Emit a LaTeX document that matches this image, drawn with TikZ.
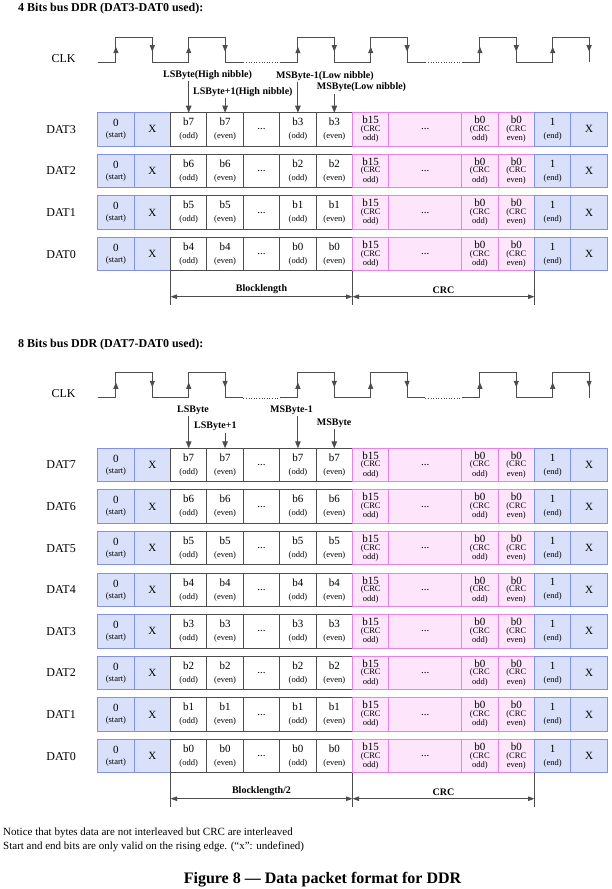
\documentclass[tikz,border=0pt]{standalone}
\usepackage{fontspec}
\setmainfont{Liberation Serif}
\usepackage{xcolor}
\definecolor{BusBlue}{HTML}{D9E0FA}
\definecolor{BusBlueLine}{HTML}{7F8FF2}
\definecolor{CrcPink}{HTML}{FDE6FB}
\definecolor{CrcPinkLine}{HTML}{EE7DEE}
\definecolor{WireGray}{HTML}{4D4D4D}
\usepackage{tikz}
\usetikzlibrary{arrows.meta,positioning}

\newcommand{\cellsub}{\fontsize{8.5}{10}\selectfont}
% one bus line: name, placement, label, first bit, second bit
\newcommand{\ddrrow}[5]{%
  \node[startcell, #2] (#1-0) {0\\[-1pt]{\cellsub(start)}};
  \node[sigtext, left=21.7pt of #1-0] (#1-name) {#3};
  \node[startcell, right=0pt of #1-0] (#1-1) {X};
  \node[datacell, right=0pt of #1-1] (#1-2) {b#4\\[1pt]{\cellsub(odd)}};
  \node[datacell, right=0pt of #1-2] (#1-3) {b#4\\[1pt]{\cellsub(even)}};
  \node[datacell, right=0pt of #1-3] (#1-4) {...};
  \node[datacell, right=0pt of #1-4] (#1-5) {b#5\\[1pt]{\cellsub(odd)}};
  \node[datacell, right=0pt of #1-5] (#1-6) {b#5\\[1pt]{\cellsub(even)}};
  \node[crccell, right=0pt of #1-6] (#1-7) {b15\\[-4.5pt]{\cellsub(CRC}\\[-2.5pt]{\cellsub odd)}};
  \node[crccell, minimum width=72.8pt, right=0pt of #1-7] (#1-8) {...};
  \node[crccell, right=0pt of #1-8] (#1-9) {b0\\[-4.5pt]{\cellsub(CRC}\\[-2.5pt]{\cellsub odd)}};
  \node[crccell, right=0pt of #1-9] (#1-10) {b0\\[-4.5pt]{\cellsub(CRC}\\[-2.5pt]{\cellsub even)}};
  \node[startcell, right=0pt of #1-10] (#1-11) {1\\[1pt]{\cellsub(end)}};
  \node[startcell, right=0pt of #1-11] (#1-12) {X};
}
% clock wave, #1 = y of the low level
\newcommand{\clkwave}[1]{%
  \draw[clkline] (97.7,#1) -| (115.9,#1-25) -| (152.3,#1) -| (188.7,#1-25) -| (225.1,#1) -- (243.3,#1);
  \draw[clkline, line width=0.6pt, dotted] (243.3,#1) -- (279.7,#1);
  \draw[clkline] (279.7,#1) -| (297.9,#1-25) -| (334.3,#1) -| (370.7,#1-25) -| (407.1,#1) -- (425.3,#1);
  \draw[clkline, line width=0.6pt, dotted] (425.3,#1) -- (461.7,#1);
  \draw[clkline] (461.7,#1) -| (479.9,#1-25) -| (516.3,#1) -| (552.7,#1-25) -| (589.1,#1);
  \foreach \x in {115.9,188.7,297.9,370.7,479.9,552.7}
    \draw[clkline, -{Triangle[length=6.5pt,width=5pt]}] (\x,#1) -- (\x,#1-15.6);
  \foreach \x in {152.3,225.1,334.3,407.1,516.3,589.1}
    \draw[clkline, -{Triangle[length=6.5pt,width=5pt]}] (\x,#1-25) -- (\x,#1-10.6);
}

\begin{document}
\begin{tikzpicture}[x=1pt, y=-1pt,
  cell/.style={draw, line width=1pt, minimum width=36.4pt, minimum height=33.3pt, inner sep=1pt, outer sep=0pt, align=center, font=\fontsize{11}{12}\selectfont},
  startcell/.style={cell, draw=BusBlueLine, fill=BusBlue},
  datacell/.style={cell, draw=WireGray, fill=white},
  crccell/.style={cell, draw=CrcPinkLine, fill=CrcPink},
  sigtext/.style={inner sep=0pt, font=\fontsize{12}{14}\selectfont},
  hint/.style={anchor=west, inner sep=1.5pt, font=\fontsize{10}{12}\selectfont\bfseries},
  ptr/.style={-{Triangle[length=7pt,width=5.5pt]}, line width=1pt, draw=WireGray},
  clkline/.style={line width=1.1pt, draw=WireGray},
  tick/.style={line width=0.8pt, draw=WireGray},
  span/.style={{Triangle[length=6.5pt,width=4.5pt]}-{Triangle[length=6.5pt,width=4.5pt]}, line width=0.8pt, draw=WireGray},
  spanlabel/.style={inner sep=0pt, font=\fontsize{10}{12}\selectfont\bfseries},
  heading/.style={anchor=base west, inner sep=0pt, font=\fontsize{12}{14}\selectfont\bfseries},
  note/.style={anchor=west, inner sep=0pt, font=\fontsize{11}{13}\selectfont},
]
\useasboundingbox (0,0) rectangle (611,889);

% 4 bits bus
\node[heading] (ttl-a) at (18,11.5) {4 Bits bus DDR (DAT3-DAT0 used):};
\node[sigtext] (clk-a) at (63.5,58.3) {CLK};
\clkwave{62.3}
\ddrrow{a3}{at={(115.9,129.35)}}{DAT3}{7}{3}
\ddrrow{a2}{below=8.3pt of a3-0}{DAT2}{6}{2}
\ddrrow{a1}{below=8.3pt of a2-0}{DAT1}{5}{1}
\ddrrow{a0}{below=8.3pt of a1-0}{DAT0}{4}{0}

\node[hint] (lsb-a) at (161.5,75) {LSByte(High nibble)};
\node[hint] (lsb1-a) at (191.5,91.7) {LSByte+1(High nibble)};
\node[hint] (msb1-a) at (274.5,75.7) {MSByte-1(Low nibble)};
\node[hint] (msb-a) at (315.2,87.3) {MSByte(Low nibble)};
\draw[ptr] (lsb-a.south -| a3-2.north) -- (a3-2.north);
\draw[ptr] (lsb1-a.south -| a3-3.north) -- (a3-3.north);
\draw[ptr] (msb1-a.south -| a3-5.north) -- (a3-5.north);
\draw[ptr] (msb-a.south -| a3-6.north) -- (a3-6.north);

\coordinate (a-t1) at ([yshift=-34.2pt]a0-2.south west);
\coordinate (a-t2) at ([yshift=-34.2pt]a0-6.south east);
\coordinate (a-t3) at ([yshift=-34.2pt]a0-10.south east);
\coordinate (a-d1) at ([yshift=-25.9pt]a0-2.south west);
\coordinate (a-d2) at ([yshift=-25.9pt]a0-6.south east);
\coordinate (a-d3) at ([yshift=-25.9pt]a0-10.south east);
\draw[tick] (a0-2.south west) -- (a-t1);
\draw[tick] (a0-6.south east) -- (a-t2);
\draw[tick] (a0-10.south east) -- (a-t3);
\draw[span] (a-d1) -- node[spanlabel, above=3pt] (blen-a) {Blocklength} (a-d2);
\draw[span] (a-d2) -- node[spanlabel, above=3pt] (crc-a) {CRC} (a-d3);

% 8 bits bus
\node[heading] (ttl-b) at (18,347.1) {8 Bits bus DDR (DAT7-DAT0 used):};
\node[sigtext] (clk-b) at (63.5,393.9) {CLK};
\clkwave{397.9}
\ddrrow{b7}{at={(115.9,464.95)}}{DAT7}{7}{7}
\ddrrow{b6}{below=8.3pt of b7-0}{DAT6}{6}{6}
\ddrrow{b5}{below=8.3pt of b6-0}{DAT5}{5}{5}
\ddrrow{b4}{below=8.3pt of b5-0}{DAT4}{4}{4}
\ddrrow{b3}{below=8.3pt of b4-0}{DAT3}{3}{3}
\ddrrow{b2}{below=8.3pt of b3-0}{DAT2}{2}{2}
\ddrrow{b1}{below=8.3pt of b2-0}{DAT1}{1}{1}
\ddrrow{b0}{below=8.3pt of b1-0}{DAT0}{0}{0}

\node[hint] (lsb-b) at (175.5,410) {LSByte};
\node[hint] (lsb1-b) at (192.5,426.7) {LSByte+1};
\node[hint] (msb1-b) at (268.5,410) {MSByte-1};
\node[hint] (msb-b) at (315.2,423.3) {MSByte};
\draw[ptr] (lsb-b.south -| b7-2.north) -- (b7-2.north);
\draw[ptr] (lsb1-b.south -| b7-3.north) -- (b7-3.north);
\draw[ptr] (msb1-b.south -| b7-5.north) -- (b7-5.north);
\draw[ptr] (msb-b.south -| b7-6.north) -- (b7-6.north);

\coordinate (b-t1) at ([yshift=-34.2pt]b0-2.south west);
\coordinate (b-t2) at ([yshift=-34.2pt]b0-6.south east);
\coordinate (b-t3) at ([yshift=-34.2pt]b0-10.south east);
\coordinate (b-d1) at ([yshift=-25.9pt]b0-2.south west);
\coordinate (b-d2) at ([yshift=-25.9pt]b0-6.south east);
\coordinate (b-d3) at ([yshift=-25.9pt]b0-10.south east);
\draw[tick] (b0-2.south west) -- (b-t1);
\draw[tick] (b0-6.south east) -- (b-t2);
\draw[tick] (b0-10.south east) -- (b-t3);
\draw[span] (b-d1) -- node[spanlabel, above=3pt] (blen-b) {Blocklength/2} (b-d2);
\draw[span] (b-d2) -- node[spanlabel, above=3pt] (crc-b) {CRC} (b-d3);

% notes and caption
\node[note] (note1) at (3,832.7) {Notice that bytes data are not interleaved but CRC are interleaved};
\node[note] (note2) at (3,846.7) {Start and end bits are only valid on the rising edge. (“x”: undefined)};
\node[font=\fontsize{16}{18}\selectfont\bfseries, inner sep=0pt] (cap) at (322.5,880) {Figure 8 — Data packet format for DDR};
\end{tikzpicture}
\end{document}
